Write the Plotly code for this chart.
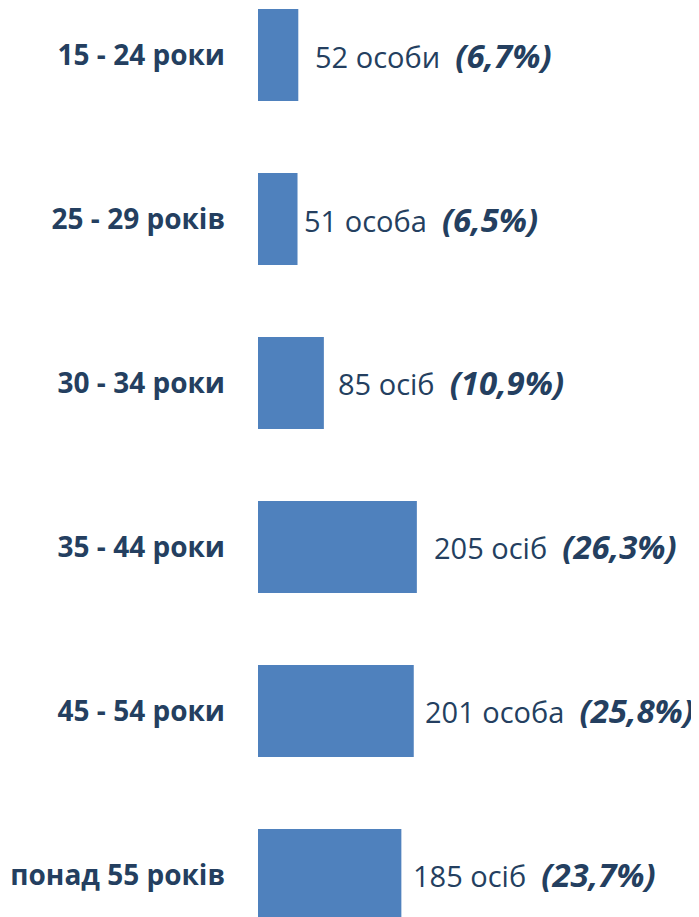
import plotly.graph_objects as go

categories = ["15 - 24 роки", "25 - 29 років", "30 - 34 роки", "35 - 44 роки", "45 - 54 роки", "понад 55 років"]
counts = [52, 51, 85, 205, 201, 185]
count_words = ["особи", "особа", "осіб", "осіб", "особа", "осіб"]
percents = ["6,7%", "6,5%", "10,9%", "26,3%", "25,8%", "23,7%"]

# label placement tweaks (pixels) - style only
label_shift = [15, 4, 12, 15, 9, 10]

BAR = "#4F81BD"
TXT = "#243F60"
FONT = "Open Sans"

fig = go.Figure(go.Bar(
    x=counts, y=categories, orientation="h",
    marker=dict(color=BAR, line=dict(width=0)),
    width=0.56, hoverinfo="skip",
))

for c, n, w, p, s in zip(categories, counts, count_words, percents, label_shift):
    fig.add_annotation(
        x=n, y=c, xref="x", yref="y", xanchor="left", yanchor="middle",
        xshift=s, yshift=0, showarrow=False,
        text=f"{n} {w}  <span style='font-size:33px'><b><i>({p})</i></b></span>",
        font=dict(family=FONT, size=29, color=TXT),
    )

fig.update_layout(
    width=699, height=917,
    margin=dict(l=250, r=0, t=0, b=0),
    paper_bgcolor="white", plot_bgcolor="white",
    showlegend=False,
    xaxis=dict(range=[0, 579.4], visible=False),
    yaxis=dict(
        type="category", categoryorder="array", categoryarray=categories,
        range=[5.305, -0.2866],
        showgrid=False, zeroline=False, showline=False, ticks="",
        ticklabelstandoff=32,
        tickfont=dict(family=FONT, size=28, color=TXT, weight="bold"),
    ),
)

fig.write_html("out.html")
